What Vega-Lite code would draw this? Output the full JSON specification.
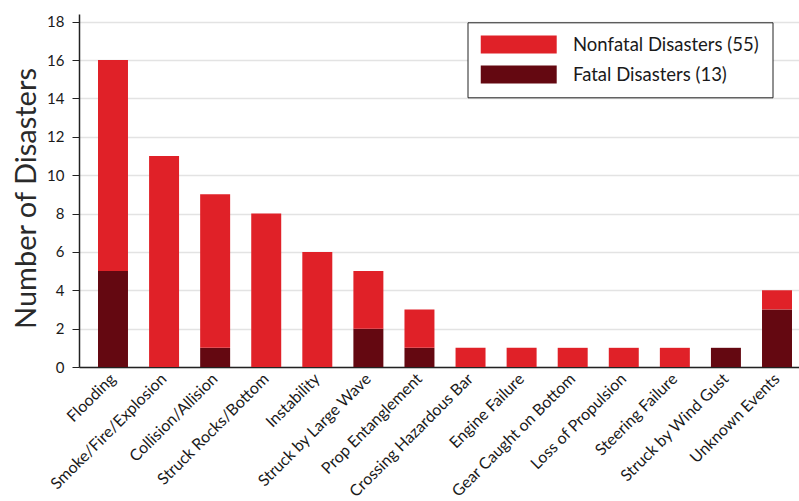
{
  "$schema": "https://vega.github.io/schema/vega-lite/v6.json",
  "width": 720,
  "height": 353,
  "autosize": {"type": "none"},
  "padding": {"left": 79, "top": 14, "right": 0, "bottom": 134},
  "background": "white",
  "config": {
    "font": "Lato",
    "view": {"stroke": null}
  },
  "data": {
    "values": [
      {"cause": "Flooding", "type": "Fatal Disasters (13)", "count": 5},
      {"cause": "Flooding", "type": "Nonfatal Disasters (55)", "count": 11},
      {"cause": "Smoke/Fire/Explosion", "type": "Nonfatal Disasters (55)", "count": 11},
      {"cause": "Collision/Allision", "type": "Fatal Disasters (13)", "count": 1},
      {"cause": "Collision/Allision", "type": "Nonfatal Disasters (55)", "count": 8},
      {"cause": "Struck Rocks/Bottom", "type": "Nonfatal Disasters (55)", "count": 8},
      {"cause": "Instability", "type": "Nonfatal Disasters (55)", "count": 6},
      {"cause": "Struck by Large Wave", "type": "Fatal Disasters (13)", "count": 2},
      {"cause": "Struck by Large Wave", "type": "Nonfatal Disasters (55)", "count": 3},
      {"cause": "Prop Entanglement", "type": "Fatal Disasters (13)", "count": 1},
      {"cause": "Prop Entanglement", "type": "Nonfatal Disasters (55)", "count": 2},
      {"cause": "Crossing Hazardous Bar", "type": "Nonfatal Disasters (55)", "count": 1},
      {"cause": "Engine Failure", "type": "Nonfatal Disasters (55)", "count": 1},
      {"cause": "Gear Caught on Bottom", "type": "Nonfatal Disasters (55)", "count": 1},
      {"cause": "Loss of Propulsion", "type": "Nonfatal Disasters (55)", "count": 1},
      {"cause": "Steering Failure", "type": "Nonfatal Disasters (55)", "count": 1},
      {"cause": "Struck by Wind Gust", "type": "Fatal Disasters (13)", "count": 1},
      {"cause": "Unknown Events", "type": "Fatal Disasters (13)", "count": 3},
      {"cause": "Unknown Events", "type": "Nonfatal Disasters (55)", "count": 1}
    ]
  },
  "mark": {"type": "bar", "strokeWidth": 0},
  "encoding": {
    "x": {
      "field": "cause",
      "type": "nominal",
      "sort": ["Flooding", "Smoke/Fire/Explosion", "Collision/Allision", "Struck Rocks/Bottom", "Instability", "Struck by Large Wave", "Prop Entanglement", "Crossing Hazardous Bar", "Engine Failure", "Gear Caught on Bottom", "Loss of Propulsion", "Steering Failure", "Struck by Wind Gust", "Unknown Events"],
      "scale": {"range": [0, 732], "paddingInner": 0.413, "paddingOuter": 0.372},
      "axis": {
        "title": null,
        "labelAngle": -45,
        "labelAlign": "right",
        "labelBaseline": "middle",
        "labelFontSize": 16,
        "labelColor": "#1a1a1a",
        "labelPadding": 9,
        "labelLimit": 300,
        "ticks": false,
        "domainColor": "#222222",
        "domainWidth": 1.5,
        "grid": false
      }
    },
    "y": {
      "field": "count",
      "type": "quantitative",
      "aggregate": "sum",
      "stack": "zero",
      "scale": {"domain": [0, 18.4], "nice": false},
      "axis": {
        "title": "Number of Disasters",
        "titleFontSize": 29,
        "titleFontWeight": "normal",
        "titleColor": "#2a2a2a",
        "titleX": -44,
        "titleY": 184,
        "titleBaseline": "alphabetic",
        "values": [0, 2, 4, 6, 8, 10, 12, 14, 16, 18],
        "labelFontSize": 15,
        "labelColor": "#1a1a1a",
        "labelPadding": 8,
        "tickSize": 7,
        "tickColor": "#222222",
        "domainColor": "#222222",
        "domainWidth": 1.5,
        "gridColor": "#e3e3e3",
        "gridWidth": 1.5
      }
    },
    "order": {"field": "type", "sort": "ascending"},
    "color": {
      "field": "type",
      "type": "nominal",
      "scale": {
        "domain": ["Nonfatal Disasters (55)", "Fatal Disasters (13)"],
        "range": ["#e02128", "#640811"]
      },
      "legend": {
        "title": null,
        "orient": "none",
        "legendX": 388.5,
        "legendY": 8.3,
        "direction": "vertical",
        "fillColor": "white",
        "strokeColor": "#222222",
        "padding": 13,
        "symbolType": "M-1,-1H7.44V1H-1Z",
        "symbolSize": 324,
        "symbolStrokeWidth": 0,
        "labelFontSize": 18.5,
        "labelColor": "#1a1a1a",
        "labelOffset": 74,
        "labelLimit": 300,
        "rowPadding": 11
      }
    }
  }
}
